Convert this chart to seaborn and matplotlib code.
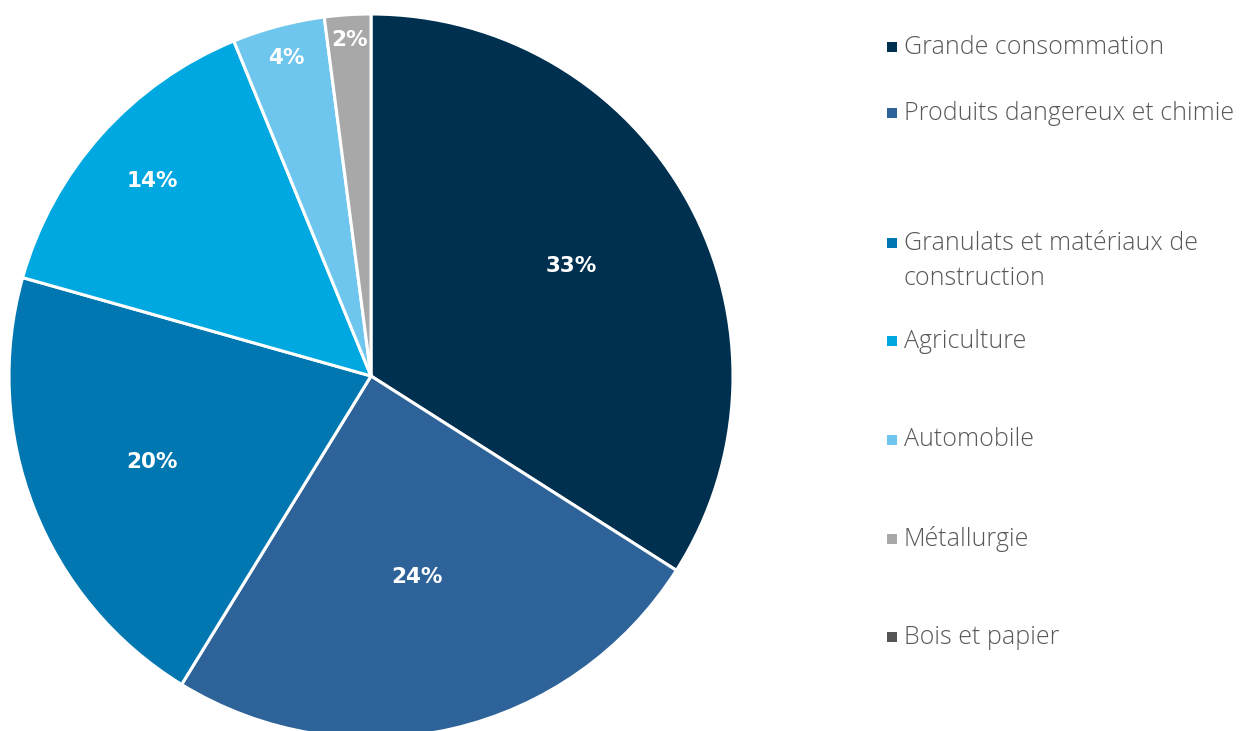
import matplotlib
matplotlib.use("Agg")
import matplotlib.pyplot as plt
from matplotlib.patches import Rectangle
import numpy as np
import seaborn as sns

# Répartition par secteur (en %)
sectors = [
    "Grande consommation",
    "Produits dangereux et chimie",
    "Granulats et matériaux de\nconstruction",
    "Agriculture",
    "Automobile",
    "Métallurgie",
    "Bois et papier",
]
shares = [33, 24, 20, 14, 4, 2, 0]
sector_colors = ["#00304f", "#2e6399", "#0077b0", "#00a8e1", "#6ec6ee", "#a8a8a8", "#555555"]

# radial position of each percentage label (fraction of the radius)
label_radius = [0.63, 0.57, 0.65, 0.81, 0.91, 0.93, 0.9]

sns.set_theme(style="white")
plt.rcParams["font.family"] = ["Open Sans", "DejaVu Sans"]

W, H = 1245, 731
fig = plt.figure(figsize=(W / 100, H / 100), dpi=100)
fig.patch.set_facecolor("white")

cx, cy, R = 371, 376, 362
ax = fig.add_axes([(cx - R) / W, (H - cy - R) / H, 2 * R / W, 2 * R / H])
ax.axis("off")

palette = sns.color_palette(sector_colors)
vals = np.array(shares, dtype=float)
drawn = vals > 0
wedges, _ = ax.pie(
    vals[drawn],
    colors=[c for c, d in zip(palette, drawn) if d],
    startangle=90,
    counterclock=False,
    radius=1.0,
    wedgeprops=dict(edgecolor="white", linewidth=2.2),
)
ax.set_xlim(-1, 1)
ax.set_ylim(-1, 1)
ax.set_aspect("equal")

for w, v, r in zip(wedges, vals[drawn], np.array(label_radius)[drawn]):
    mid = np.deg2rad((w.theta1 + w.theta2) / 2)
    ax.text(r * np.cos(mid), r * np.sin(mid), f"{int(v)}%",
            ha="center", va="center", color="white",
            fontsize=15.5, fontweight="bold", family="DejaVu Sans")

# legend drawn as figure text with small square keys
legend_y = [47, 113, 261, 341, 440, 539, 637]
for name, col, y in zip(sectors, palette, legend_y):
    fy = 1 - y / H
    n_lines = name.count("\n") + 1
    fig.patches.append(Rectangle((887 / W, fy - 5 / H + (n_lines - 1) * 18 / H), 10 / W, 10 / H,
                                 transform=fig.transFigure, facecolor=col,
                                 edgecolor="none"))
    fig.text(904 / W, fy, name, ha="left", va="center", fontsize=18,
             fontweight="light", color="#585858", linespacing=1.55)

fig.savefig("out.png", dpi=100, facecolor="white")
